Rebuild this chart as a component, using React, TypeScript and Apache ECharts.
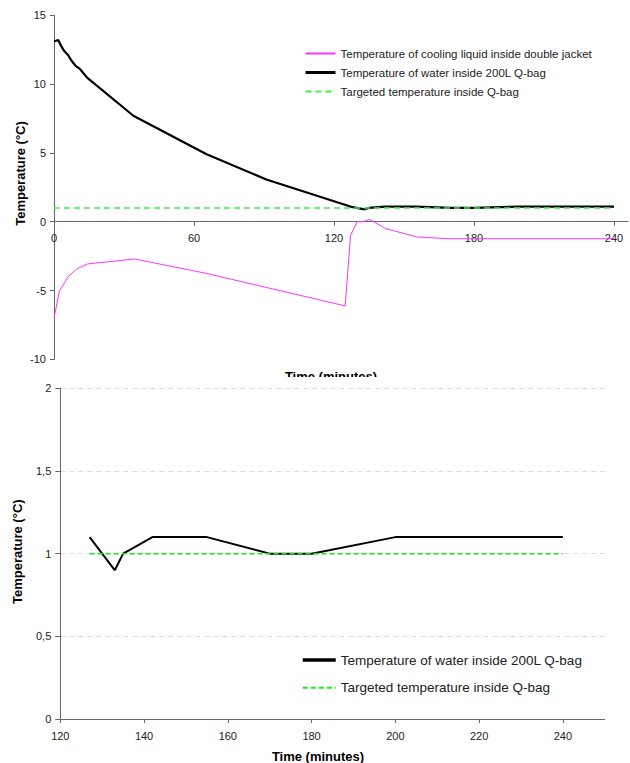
import React, { useEffect, useRef } from "react";
import * as echarts from "echarts";

// ---------- Data (top chart) ----------
const waterTimeTop = [0, 1.8, 3.3, 4.4, 6.1, 7.3, 9.4, 11.1, 14.3, 34, 65.4, 91, 127, 133, 135, 142, 155, 170, 180, 200, 240];
const waterTempTop = [13.1, 13.2, 12.7, 12.4, 12.1, 11.75, 11.3, 11.1, 10.45, 7.7, 4.9, 3.07, 1.1, 0.9, 1.0, 1.1, 1.1, 1.0, 1.0, 1.1, 1.1];
const coolTime = [0, 2.3, 6.2, 9.6, 14.4, 34.5, 64.6, 124.8, 127.1, 130, 132.6, 135.2, 142.2, 155.5, 169.6, 240];
const coolTemp = [-7.0, -5.05, -3.97, -3.45, -3.07, -2.71, -3.73, -6.12, -0.99, 0.0, 0.0, 0.17, -0.5, -1.11, -1.24, -1.24];
const targetTimeTop = [0, 240];
const targetTempTop = [1, 1];
const topXTicks = [0, 60, 120, 180, 240];

// ---------- Data (bottom chart) ----------
const waterTimeBottom = [127, 133, 135, 142, 155, 170, 180, 200, 240];
const waterTempBottom = [1.1, 0.9, 1.0, 1.1, 1.1, 1.0, 1.0, 1.1, 1.1];
const targetTimeBottom = [127, 240];
const targetTempBottom = [1, 1];
const bottomXTicks = [120, 140, 160, 180, 200, 220, 240];

const NAME_COOL = "Temperature of cooling liquid inside double jacket";
const NAME_WATER = "Temperature of water inside 200L Q-bag";
const NAME_TARGET = "Targeted temperature inside Q-bag";

const FONT = "Liberation Sans, Arial, sans-serif";
const AXIS_COLOR = "#666";
const LABEL_COLOR = "#222";

const zip = (xs: number[], ys: number[]) => xs.map((x, i) => [x, ys[i]]);

const TOP_GRID = { left: 54, top: 15.3, width: 574, height: 344 };
const TOP_YMIN = -10;
const TOP_YMAX = 15;

function topOption(): any {
  // place x axis on the y = 0 line
  const zeroOffset = -(TOP_GRID.height * (0 - TOP_YMIN)) / (TOP_YMAX - TOP_YMIN);
  return {
    animation: false,
    textStyle: { fontFamily: FONT },
    grid: { ...TOP_GRID, containLabel: false },
    legend: {
      orient: "vertical",
      left: 304,
      top: 47.5,
      padding: 0,
      itemWidth: 30,
      itemHeight: 14,
      itemGap: 7,
      itemStyle: { opacity: 0 },
      textStyle: { fontSize: 11.5, color: LABEL_COLOR, fontFamily: FONT },
      data: [NAME_COOL, { name: NAME_WATER, lineStyle: { width: 3 } }, NAME_TARGET],
    },
    xAxis: {
      type: "value",
      min: 0,
      max: 246,
      interval: 60,
      offset: zeroOffset,
      axisLine: { onZero: false, lineStyle: { color: AXIS_COLOR } },
      axisTick: { show: true, length: 4, customValues: topXTicks, lineStyle: { color: AXIS_COLOR } },
      axisLabel: { fontSize: 11, color: LABEL_COLOR, margin: 11, customValues: topXTicks, fontFamily: FONT },
      splitLine: { show: false },
    },
    yAxis: {
      type: "value",
      min: TOP_YMIN,
      max: TOP_YMAX,
      interval: 5,
      axisLine: { show: true, onZero: false, lineStyle: { color: AXIS_COLOR } },
      axisTick: { show: true, length: 4, lineStyle: { color: AXIS_COLOR } },
      axisLabel: { fontSize: 11, color: LABEL_COLOR, margin: 8, fontFamily: FONT },
      splitLine: { show: false },
    },
    graphic: [
      {
        type: "text",
        x: 331,
        y: 370,
        style: { text: "Time (minutes)", font: `bold 13px ${FONT}`, fill: "#000", align: "center", verticalAlign: "top" },
      },
      {
        type: "text",
        x: 20,
        y: 173.5,
        rotation: Math.PI / 2,
        style: { text: "Temperature (°C)", font: `bold 13px ${FONT}`, fill: "#000", align: "center", verticalAlign: "middle" },
      },
    ],
    series: [
      {
        name: NAME_COOL,
        type: "line",
        data: zip(coolTime, coolTemp),
        symbol: "none",
        lineStyle: { color: "#ff33ff", width: 1 },
        itemStyle: { color: "#ff33ff" },
        z: 3,
      },
      {
        name: NAME_TARGET,
        type: "line",
        data: zip(targetTimeTop, targetTempTop),
        symbol: "none",
        lineStyle: { color: "#44ee44", width: 1.5, type: [6, 4] },
        itemStyle: { color: "#44ee44" },
        z: 4,
      },
      {
        name: NAME_WATER,
        type: "line",
        data: zip(waterTimeTop, waterTempTop),
        symbol: "none",
        lineStyle: { color: "#000", width: 2.2 },
        itemStyle: { color: "#000" },
        z: 3,
      },
    ],
  };
}

function bottomOption(): any {
  return {
    animation: false,
    textStyle: { fontFamily: FONT },
    grid: { left: 60.3, top: 11.3, width: 544.4, height: 330.7, containLabel: false },
    legend: {
      orient: "vertical",
      left: 301,
      top: 276,
      padding: 0,
      itemWidth: 33,
      itemHeight: 14,
      itemGap: 13.7,
      itemStyle: { opacity: 0 },
      textStyle: { fontSize: 13.5, color: LABEL_COLOR, fontFamily: FONT },
      data: [{ name: NAME_WATER, lineStyle: { width: 3.5 } }, NAME_TARGET],
    },
    xAxis: {
      type: "value",
      min: 120,
      max: 250,
      interval: 20,
      axisLine: { lineStyle: { color: AXIS_COLOR } },
      axisTick: { show: true, length: 4, customValues: bottomXTicks, lineStyle: { color: AXIS_COLOR } },
      axisLabel: { fontSize: 11, color: LABEL_COLOR, margin: 11, customValues: bottomXTicks, fontFamily: FONT },
      splitLine: { show: false },
    },
    yAxis: {
      type: "value",
      min: 0,
      max: 2,
      interval: 0.5,
      axisLine: { show: true, lineStyle: { color: AXIS_COLOR } },
      axisTick: { show: true, length: 5, lineStyle: { color: AXIS_COLOR } },
      axisLabel: {
        fontSize: 11,
        color: LABEL_COLOR,
        margin: 9,
        fontFamily: FONT,
        formatter: (v: number) => String(v).replace(".", ","),
      },
      splitLine: { show: true, lineStyle: { color: "#dddddd", type: [5, 4] } },
    },
    graphic: [
      {
        type: "text",
        x: 318,
        y: 379.7,
        style: { text: "Time (minutes)", font: `bold 13px ${FONT}`, fill: "#000", align: "center", verticalAlign: "middle" },
      },
      {
        type: "text",
        x: 17.5,
        y: 174.7,
        rotation: Math.PI / 2,
        style: { text: "Temperature (°C)", font: `bold 13px ${FONT}`, fill: "#000", align: "center", verticalAlign: "middle" },
      },
    ],
    series: [
      {
        name: NAME_TARGET,
        type: "line",
        data: zip(targetTimeBottom, targetTempBottom),
        symbol: "none",
        lineStyle: { color: "#11ee11", width: 1.5, type: [5, 3] },
        itemStyle: { color: "#11ee11" },
        z: 4,
      },
      {
        name: NAME_WATER,
        type: "line",
        data: zip(waterTimeBottom, waterTempBottom),
        symbol: "none",
        lineStyle: { color: "#000", width: 2 },
        itemStyle: { color: "#000" },
        z: 3,
      },
    ],
  };
}

function Chart({ option, width, height }: { option: any; width: number; height: number }) {
  const ref = useRef<HTMLDivElement>(null);
  useEffect(() => {
    if (!ref.current) return;
    const chart = echarts.init(ref.current, undefined, { renderer: "svg" });
    chart.setOption(option);
    return () => chart.dispose();
  }, []);
  return <div ref={ref} style={{ width, height }} />;
}

export default function App() {
  return (
    <div style={{ position: "fixed", left: 0, top: 0, width: 630, height: 763, background: "#fff" }}>
      <div style={{ position: "absolute", left: 0, top: 0, width: 630, height: 377, overflow: "hidden" }}>
        <Chart option={topOption()} width={630} height={400} />
      </div>
      <div style={{ position: "absolute", left: 0, top: 377, width: 630, height: 386 }}>
        <Chart option={bottomOption()} width={630} height={386} />
      </div>
    </div>
  );
}
